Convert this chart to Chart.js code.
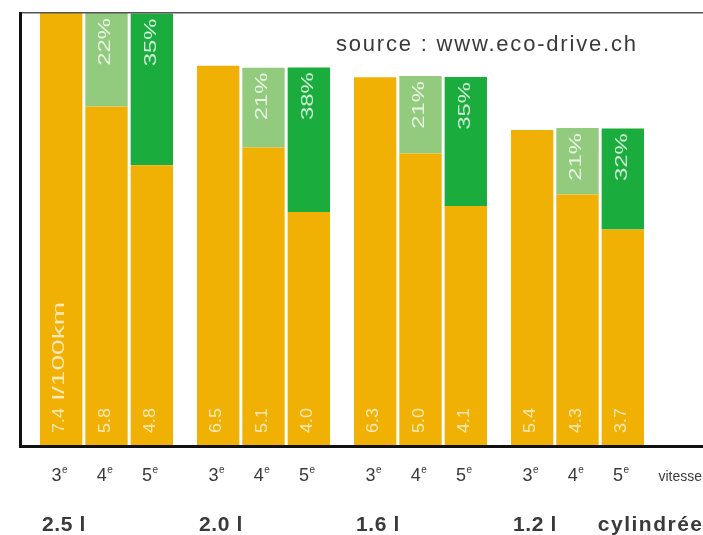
<!DOCTYPE html>
<html>
<head>
<meta charset="utf-8">
<script src="https://cdn.jsdelivr.net/npm/chart.js@4.4.1/dist/chart.umd.min.js"></script>
<style>
  html, body { margin: 0; padding: 0; background: #ffffff; }
  #wrap { width: 703px; height: 535px; }
</style>
</head>
<body>
<div id="wrap"><canvas id="c" width="703" height="535"></canvas></div>
<script>
// Engine size (litres) for each group of bars
const cylindrees = ['2.5 l', '2.0 l', '1.6 l', '1.2 l'];
// Gear for each bar inside a group (drawn with a superscript "e")
const gears = ['3', '4', '5'];
const ordinalSuffix = 'e';
// Fuel consumption, l/100km
const conso3 = [7.4, 6.5, 6.3, 5.4];
const conso4 = [5.8, 5.1, 5.0, 4.3];
const conso5 = [4.8, 4.0, 4.1, 3.7];
// Saving against 3rd gear, percent
const gain4 = [22, 21, 21, 21];
const gain5 = [35, 38, 35, 32];

const unitLabel = 'l/100km';
const gearAxisLabel = 'vitesse';
const groupAxisLabel = 'cylindrée';
const sourceLabel = 'source : www.eco-drive.ch';

const ORANGE = '#f1b104';
const LIGHT_GREEN = '#92cb7e';
const DARK_GREEN = '#1aac3c';
const FONT = "'Liberation Sans', Arial, Helvetica, sans-serif";

// one point per engine group, placed at x = 1..4
const toPoints = values => values.map((v, i) => ({ x: i + 1, y: v }));
// the green cap is the saved share of the 3rd-gear consumption
const savedPart = (gains) => conso3.map((v, i) => v * gains[i] / 100);

const common = { clip: 0, borderWidth: 0, categoryPercentage: 0.866, barPercentage: 0.934 };

const datasets = [
  { ...common, label: '3e', stack: 'g3', data: toPoints(conso3), backgroundColor: ORANGE },
  { ...common, label: '4e', stack: 'g4', data: toPoints(conso4), backgroundColor: ORANGE },
  { ...common, label: '4e gain', stack: 'g4', data: toPoints(savedPart(gain4)), backgroundColor: LIGHT_GREEN },
  { ...common, label: '5e', stack: 'g5', data: toPoints(conso5), backgroundColor: ORANGE },
  { ...common, label: '5e gain', stack: 'g5', data: toPoints(savedPart(gain5)), backgroundColor: DARK_GREEN }
];

// which dataset carries which gear / which label
const consoSets = [ { ds: 0, values: conso3 }, { ds: 1, values: conso4 }, { ds: 3, values: conso5 } ];
const gainSets = [ { ds: 2, values: gain4 }, { ds: 4, values: gain5 } ];

// text turned a quarter to read upwards; sx stretches it along the reading direction
function rotText(ctx, text, x, y, align, sx) {
  ctx.save();
  ctx.translate(x, y);
  ctx.rotate(-Math.PI / 2);
  ctx.scale(sx, 1);
  ctx.textAlign = align;
  ctx.textBaseline = 'middle';
  ctx.fillText(text, 0, 0);
  ctx.restore();
}

function spacedText(ctx, text, x, y, align, spacing) {
  ctx.save();
  ctx.textAlign = align;
  ctx.textBaseline = 'alphabetic';
  ctx.letterSpacing = spacing + 'px';
  ctx.fillText(text, x, y);
  ctx.restore();
}

const barLabels = {
  id: 'barLabels',
  afterDatasetsDraw(chart) {
    const ctx = chart.ctx;
    const a = chart.chartArea;
    ctx.save();
    ctx.beginPath();
    ctx.rect(a.left, a.top, a.right - a.left, a.bottom - a.top);
    ctx.clip();

    // consumption values, reading upwards from the foot of each bar
    ctx.font = `17px ${FONT}`;
    ctx.fillStyle = 'rgba(255,255,255,0.72)';
    consoSets.forEach(({ ds, values }) => {
      chart.getDatasetMeta(ds).data.forEach((el, i) => {
        const txt = values[i].toFixed(1);
        const y0 = el.base - 13;
        rotText(ctx, txt, el.x - 1.5, y0, 'left', 1.05);
        if (ds === 0 && i === 0) {
          const w = ctx.measureText(txt).width * 1.05;
          rotText(ctx, unitLabel, el.x - 1.5, y0 - w - 8, 'left', 1.65);
        }
      });
    });

    // savings, hanging from the top of each green cap
    ctx.font = `17px ${FONT}`;
    ctx.fillStyle = 'rgba(255,255,255,0.8)';
    gainSets.forEach(({ ds, values }) => {
      chart.getDatasetMeta(ds).data.forEach((el, i) => {
        const top = Math.max(el.y, a.top);
        rotText(ctx, values[i] + '%', el.x - 1, top + 5, 'right', 1.4);
      });
    });
    ctx.restore();
  },
  afterDraw(chart) {
    const ctx = chart.ctx;
    const a = chart.chartArea;
    ctx.save();
    ctx.fillStyle = '#3a3a3a';

    // source note
    ctx.font = `22px ${FONT}`;
    spacedText(ctx, sourceLabel, a.left + 316, 51, 'left', 1.8);

    // gear under each bar
    consoSets.forEach(({ ds }, g) => {
      chart.getDatasetMeta(ds).data.forEach((el) => {
        ctx.font = `18px ${FONT}`;
        const wd = ctx.measureText(gears[g]).width;
        ctx.font = `10px ${FONT}`;
        const ws = ctx.measureText(ordinalSuffix).width;
        const left = el.x - (wd + ws) / 2 - 2;
        ctx.font = `18px ${FONT}`;
        spacedText(ctx, gears[g], left, a.bottom + 35, 'left', 0);
        ctx.font = `10px ${FONT}`;
        spacedText(ctx, ordinalSuffix, left + wd + 0.5, a.bottom + 27, 'left', 0);
      });
    });
    ctx.font = `14px ${FONT}`;
    spacedText(ctx, gearAxisLabel, a.right - 1, a.bottom + 35, 'right', 0);

    // engine size under each group
    ctx.font = `bold 21px ${FONT}`;
    chart.getDatasetMeta(0).data.forEach((el, i) => {
      spacedText(ctx, cylindrees[i], el.x - el.width / 2 + 2, a.bottom + 85, 'left', 0.6);
    });
    spacedText(ctx, groupAxisLabel, a.right + 0.5, a.bottom + 85, 'right', 1.5);
    ctx.restore();
  }
};

const hiddenTicks = { display: false };
const noGrid = { display: false, drawTicks: false };

new Chart(document.getElementById('c'), {
  type: 'bar',
  data: { datasets },
  options: {
    responsive: false,
    animation: false,
    layout: { padding: { left: 20, top: 13, right: 0, bottom: 89 } },
    plugins: { legend: { display: false }, tooltip: { enabled: false } },
    scales: {
      x: {
        type: 'linear',
        position: 'bottom',
        min: 0.44904,
        max: 4.79936,
        offset: false,
        ticks: { display: false, stepSize: 1, includeBounds: false },
        grid: noGrid,
        border: { display: true, color: '#111111', width: 3, z: 1 }
      },
      x2: {
        type: 'linear',
        axis: 'x',
        position: 'top',
        min: 0,
        max: 1,
        ticks: hiddenTicks,
        grid: noGrid,
        border: { display: true, color: '#555555', width: 1.5, z: 1 }
      },
      y: {
        type: 'linear',
        position: 'left',
        min: 0,
        max: 7.4,
        ticks: hiddenTicks,
        grid: noGrid,
        border: { display: true, color: '#111111', width: 3, z: 1 }
      }
    }
  },
  plugins: [barLabels]
});
</script>
</body>
</html>
